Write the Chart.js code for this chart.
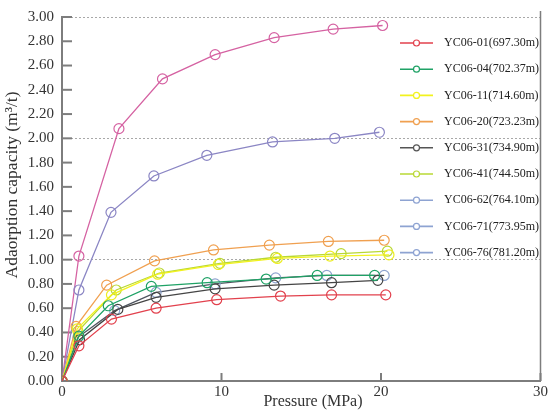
<!DOCTYPE html>
<html>
<head>
<meta charset="utf-8">
<script src="https://cdn.jsdelivr.net/npm/chart.js@4"></script>
<style>
  html, body { margin: 0; padding: 0; background: #fff; }
  #wrap { width: 550px; height: 413px; }
</style>
</head>
<body>
<div id="wrap"><canvas id="adsorption"></canvas></div>
<script>
// ********************* data ***********************
const names = [
    'YC06-01(697.30m)',
    'YC06-04(702.37m)',
    'YC06-11(714.60m)',
    'YC06-20(723.23m)',
    'YC06-31(734.90m)',
    'YC06-41(744.50m)',
    'YC06-62(764.10m)',
    'YC06-71(773.95m)',
    'YC06-76(781.20m)',
];

// pressure (MPa) and adsorption (m3/t) for each sample
const p01 = [0, 1.06, 3.1, 5.9, 9.7, 13.7, 16.9, 20.3];
const v01 = [0, 0.29, 0.51, 0.60, 0.67, 0.70, 0.71, 0.71];
const p04 = [0, 1.06, 2.9, 5.6, 9.1, 12.8, 16.0, 19.6];
const v04 = [0, 0.37, 0.62, 0.78, 0.81, 0.84, 0.87, 0.87];
const p11 = [0, 0.95, 3.1, 6.0, 9.8, 13.5, 16.8, 20.5];
const v11 = [0, 0.43, 0.71, 0.88, 0.96, 1.01, 1.03, 1.04];
const p20 = [0, 0.88, 2.8, 5.8, 9.5, 13.0, 16.7, 20.2];
const v20 = [0, 0.45, 0.79, 0.99, 1.08, 1.12, 1.15, 1.16];
const p31 = [0, 1.1, 3.5, 5.9, 9.6, 13.3, 16.9, 19.8];
const v31 = [0, 0.34, 0.59, 0.69, 0.76, 0.79, 0.81, 0.83];
const p41 = [0, 1.0, 3.4, 6.1, 9.9, 13.4, 17.5, 20.4];
const v41 = [0, 0.41, 0.75, 0.89, 0.97, 1.02, 1.05, 1.07];
const p62 = [0, 1.0, 3.3, 5.9, 9.6, 13.4, 16.6, 20.2];
const v62 = [0, 0.36, 0.58, 0.73, 0.80, 0.85, 0.87, 0.87];
const p71 = [0, 1.06, 3.07, 5.76, 9.08, 13.2, 17.1, 19.9];
const v71 = [0, 0.75, 1.39, 1.69, 1.86, 1.97, 2.00, 2.05];
const p76 = [0, 1.06, 3.57, 6.3, 9.6, 13.3, 17.0, 20.1];
const v76 = [0, 1.03, 2.08, 2.49, 2.69, 2.83, 2.90, 2.93];

const xTicks = [0, 10, 20, 30];
const gridAt = [1, 2, 3];

// ********************* styles ***********************
const pressures = [p01, p04, p11, p20, p31, p41, p62, p71, p76];
const values = [v01, v04, v11, v20, v31, v41, v62, v71, v76];
const lineColors = ['#e2414d', '#1fa266', '#f2f21e', '#f0a050', '#454545', '#b9d834', '#4f5560', '#8b86c4', '#d562a2'];
const markColors = ['#e2414d', '#1fa266', '#eded22', '#f0a050', '#454545', '#b9d834', '#8ea3cf', '#8b86c4', '#d562a2'];
const legendColors = ['#e2414d', '#1fa266', '#f2f21e', '#f0a050', '#555555', '#b9d834', '#8ea3d2', '#8ea3d2', '#8ea3d2'];

const serif = 'Liberation Serif';

const datasets = names.map((name, i) => ({
    label: name,
    data: pressures[i].map((p, j) => ({ x: p, y: values[i][j] })),
    borderColor: lineColors[i],
    pointBorderColor: markColors[i],
    backgroundColor: 'rgba(0,0,0,0)',
    pointBackgroundColor: 'rgba(0,0,0,0)',
    borderWidth: 1.3,
    pointRadius: 5,
    pointBorderWidth: 1.2,
    tension: 0,
}));

// inward tick marks, right frame, axis titles and the legend box inside the plot
const framePlugin = {
    id: 'frame',
    beforeDatasetsDraw(chart) {
        const { ctx, chartArea, scales } = chart;
        ctx.save();
        ctx.strokeStyle = '#7d7d7d';
        ctx.lineWidth = 1.5;
        ctx.beginPath();
        ctx.moveTo(chartArea.right, chartArea.top - 6);
        ctx.lineTo(chartArea.right, chartArea.bottom);
        ctx.stroke();
        ctx.lineWidth = 2;
        for (let k = 0; k <= 15; k++) {
            const y = scales.y.getPixelForValue(k * 0.2);
            ctx.beginPath();
            ctx.moveTo(chartArea.left, y);
            ctx.lineTo(chartArea.left + 10, y);
            ctx.stroke();
        }
        xTicks.forEach(v => {
            const x = scales.x.getPixelForValue(v);
            ctx.beginPath();
            ctx.moveTo(x, chartArea.bottom);
            ctx.lineTo(x, chartArea.bottom - 8);
            ctx.stroke();
        });

        // axis titles
        ctx.fillStyle = '#333';
        ctx.textAlign = 'center';
        ctx.textBaseline = 'middle';
        ctx.font = '16px "' + serif + '"';
        ctx.fillText('Pressure (MPa)', 313, 402);
        ctx.translate(12, 185);
        ctx.rotate(-Math.PI / 2);
        ctx.font = '17.5px "' + serif + '"';
        ctx.fillText('Adaorption capacity (m³/t)', 0, 0);
        ctx.restore();
    },
    afterDatasetsDraw(chart) {
        const { ctx } = chart;
        ctx.save();
        ctx.font = '12px "' + serif + '"';
        ctx.textBaseline = 'middle';
        names.forEach((name, i) => {
            const y = 43 + i * 26.2;
            ctx.strokeStyle = legendColors[i];
            ctx.lineWidth = 1.6;
            ctx.beginPath();
            ctx.moveTo(400, y);
            ctx.lineTo(433, y);
            ctx.stroke();
            ctx.lineWidth = 1.2;
            ctx.beginPath();
            ctx.arc(416.5, y, 3, 0, Math.PI * 2);
            ctx.fillStyle = '#fff';
            ctx.fill();
            ctx.stroke();
            ctx.fillStyle = '#222';
            ctx.fillText(name, 444, y);
        });
        ctx.restore();
    }
};

const config = {
    type: 'line',
    data: { datasets: datasets },
    options: {
        responsive: true,
        maintainAspectRatio: false,
        animation: false,
        layout: { padding: { top: 6, right: 9, left: 0, bottom: 0 } },
        plugins: {
            legend: { display: false },
            tooltip: { enabled: false },
        },
        scales: {
            x: {
                type: 'linear',
                min: 0,
                max: 30,
                afterBuildTicks: scale => { scale.ticks = xTicks.map(v => ({ value: v })); },
                afterFit: scale => { scale.height = 32; },
                grid: { display: false, drawTicks: false },
                border: { display: true, color: '#7d7d7d', width: 2 },
                ticks: {
                    padding: 2,
                    color: '#333',
                    font: { family: serif, size: 15 },
                    maxRotation: 0,
                },
            },
            y: {
                min: 0,
                max: 3,
                afterFit: scale => { scale.width = 62; },
                grid: {
                    drawTicks: false,
                    lineWidth: 1,
                    color: c => {
                        const v = c.tick ? c.tick.value : 0;
                        return gridAt.some(g => Math.abs(g - v) < 1e-6) ? '#a8a8a8' : 'rgba(0,0,0,0)';
                    },
                },
                border: { display: true, color: '#7d7d7d', width: 2, dash: [2, 2] },
                ticks: {
                    stepSize: 0.2,
                    padding: 8,
                    color: '#333',
                    font: { family: serif, size: 15 },
                    callback: v => Number(v).toFixed(2),
                },
            },
        },
    },
    plugins: [framePlugin],
};

const adsorption = new Chart(
    document.getElementById('adsorption'),
    config
);
</script>
</body>
</html>
